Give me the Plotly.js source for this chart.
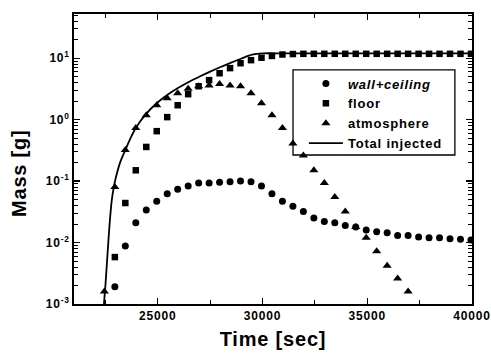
<!DOCTYPE html>
<html>
<head>
<meta charset="utf-8">
<script src="https://cdn.plot.ly/plotly-3.0.1.min.js"></script>
<style>
html,body{margin:0;padding:0;background:#fff;}
#chart{width:491px;height:353px;}
svg text{letter-spacing:0.8px;}
</style>
</head>
<body>
<div id="chart"></div>
<script>
// Sample times (s)
var timePts = [22450, 22950, 23450, 23950, 24450, 24950, 25450, 25950, 26450, 26950,
               27450, 27950, 28450, 28950, 29450, 29950, 30450, 30950, 31450, 31950,
               32450, 32950, 33450, 33950, 34450, 34950, 35450, 35950, 36450, 36950,
               37450, 37950, 38450, 38950, 39450, 39950];
// wall+ceiling (g)
var wallCeiling = [null, 0.0019, 0.0088, 0.021, 0.034, 0.047, 0.062, 0.074, 0.083, 0.093,
                   0.093, 0.096, 0.098, 0.1, 0.098, 0.083, 0.062, 0.047, 0.039, 0.032,
                   0.025, 0.022, 0.021, 0.019, 0.018, 0.016, 0.015, 0.0145, 0.013, 0.013,
                   0.0123, 0.012, 0.012, 0.0115, 0.0113, 0.011];
// floor (g)
var floorMass = [null, 0.0058, 0.044, 0.15, 0.36, 0.65, 1.1, 1.72, 2.6, 3.5,
                 4.4, 5.7, 6.9, 8.3, 9.3, 10.2, 10.9, 11.5, 11.7, 11.8,
                 11.8, 11.8, 11.8, 11.8, 11.8, 11.8, 11.8, 11.8, 11.8, 11.8,
                 11.8, 11.8, 11.8, 11.8, 11.8, 11.8];
// atmosphere (g)
var atmosphere = [0.0016, 0.08, 0.32, 0.73, 1.18, 1.72, 2.24, 2.7, 3.2, 3.5,
                  3.6, 3.8, 3.6, 3.5, 2.7, 1.85, 1.18, 0.73, 0.41, 0.26,
                  0.15, 0.093, 0.055, 0.032, 0.018, 0.012, 0.0072, 0.0042, 0.0026, 0.0016];
var atmosphereTime = timePts.slice(0, atmosphere.length);
// Total injected curve
var totalTime = [22430, 22500, 22600, 22700, 22800, 22900, 23000, 23200, 23450, 23700,
                 23950, 24400, 25000, 25500, 26000, 26500, 27000, 27500, 28000, 28500,
                 29000, 29500, 30000, 31000, 35000, 40000];
var totalMass = [0.001, 0.002, 0.0065, 0.02, 0.048, 0.08, 0.115, 0.2, 0.32, 0.5,
                 0.73, 1.2, 1.92, 2.59, 3.33, 4.15, 5.05, 6.07, 7.21, 8.47,
                 9.9, 11.4, 12.0, 12.0, 12.0, 12.0];

var yTickVals = [0.001, 0.01, 0.1, 1, 10];
var yTickText = ['10<sup>-3</sup>', '10<sup>-2</sup>', '10<sup>-1</sup>', '10<sup>0</sup>', '10<sup>1</sup>'];
var xTickVals = [25000, 30000, 35000, 40000];
var xTickText = ['25000', '30000', '35000', '40000'];
var xMinorVals = [22500, 27500, 32500, 37500];
var yMinorVals = [];
[0.001, 0.01, 0.1, 1, 10].forEach(function (d) {
  for (var k = 2; k <= 9; k++) yMinorVals.push(d * k);
});

var FONT = 'Liberation Sans, Arial, Helvetica, sans-serif';

var traces = [
  {x: timePts, y: wallCeiling, name: '<i>wall+ceiling</i>', mode: 'markers', type: 'scatter',
   marker: {symbol: 'circle', size: 7, color: '#000'}},
  {x: timePts, y: floorMass, name: 'floor', mode: 'markers', type: 'scatter',
   marker: {symbol: 'square', size: 6.5, color: '#000'}},
  {x: atmosphereTime, y: atmosphere, name: 'atmosphere', mode: 'markers', type: 'scatter',
   marker: {symbol: 'triangle-up', size: 8, color: '#000'}},
  {x: totalTime, y: totalMass, name: 'Total injected', mode: 'lines', type: 'scatter',
   line: {color: '#000', width: 1.8, shape: 'spline', smoothing: 0.8}}
];

var layout = {
  width: 491, height: 353,
  margin: {l: 74, r: 19, t: 14, b: 49},
  paper_bgcolor: '#fff', plot_bgcolor: '#fff',
  font: {family: FONT, color: '#000', size: 12, weight: 'bold'},
  showlegend: true,
  legend: {
    x: 0.5776, y: 0.812, xanchor: 'left', yanchor: 'top',
    borderwidth: 0, bgcolor: 'rgba(0,0,0,0)',
    font: {family: FONT, size: 13, color: '#000', weight: 'bold'},
    itemwidth: 34, tracegroupgap: 0
  },
  shapes: [
    {type: 'rect', xref: 'paper', yref: 'paper', x0: 0.5503, x1: 0.957, y0: 0.5138, y1: 0.807,
     line: {color: '#000', width: 1.3}, fillcolor: 'rgba(0,0,0,0)', layer: 'above'}
  ],
  annotations: [
    {text: 'Mass [g]', xref: 'paper', yref: 'paper', x: -0.138, y: 0.452,
     xanchor: 'center', yanchor: 'middle', textangle: -90, showarrow: false,
     font: {family: FONT, size: 20, weight: 'bold', color: '#000'}}
  ],
  xaxis: {
    type: 'linear', range: [21000, 40000],
    tickmode: 'array', tickvals: xTickVals, ticktext: xTickText,
    ticks: 'inside', ticklen: 6, tickwidth: 1.3, tickcolor: '#000',
    minor: {tickmode: 'array', tickvals: xMinorVals, ticks: 'inside', ticklen: 4, tickwidth: 1.1, tickcolor: '#000', showgrid: false},
    showline: true, linecolor: '#000', linewidth: 1.8, mirror: 'allticks',
    showgrid: false, zeroline: false,
    tickfont: {family: FONT, size: 12, weight: 'bold'},
    title: {text: 'Time [sec]', font: {family: FONT, size: 20, weight: 'bold'}, standoff: 10}
  },
  yaxis: {
    type: 'log', range: [-3, 1.72],
    tickmode: 'array', tickvals: yTickVals, ticktext: yTickText,
    ticks: 'inside', ticklen: 6, tickwidth: 1.3, tickcolor: '#000',
    minor: {tickmode: 'array', tickvals: yMinorVals, ticks: 'inside', ticklen: 4, tickwidth: 1, tickcolor: '#000', showgrid: false},
    showline: true, linecolor: '#000', linewidth: 1.8, mirror: 'allticks',
    showgrid: false, zeroline: false,
    tickfont: {family: FONT, size: 12, weight: 'bold'}
  }
};

Plotly.newPlot('chart', traces, layout, {staticPlot: true, displayModeBar: false});
</script>
</body>
</html>
